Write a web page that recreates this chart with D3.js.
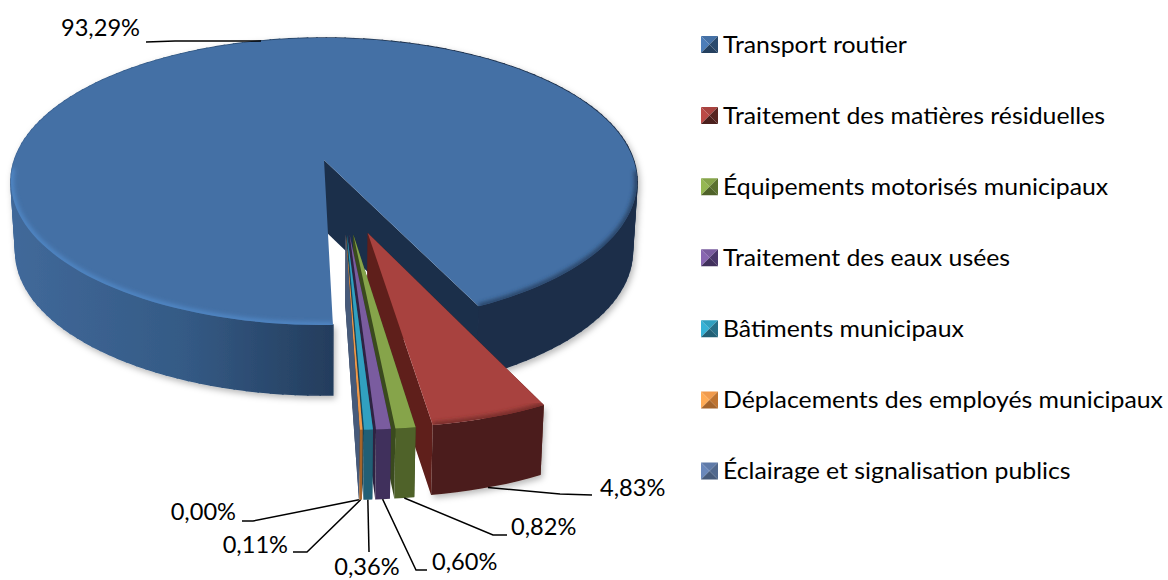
<!DOCTYPE html>
<html>
<head>
<meta charset="utf-8">
<script src="https://cdn.jsdelivr.net/npm/d3@7"></script>
<style>
  body { margin: 0; background: #fff; }
  text { font-family: Lato, "Open Sans", sans-serif; fill: #000; }
</style>
</head>
<body>
<div id="chart"></div>
<script>
// data
var categories = ["Transport routier", "Traitement des matières résiduelles", "Équipements motorisés municipaux",
  "Traitement des eaux usées", "Bâtiments municipaux", "Déplacements des employés municipaux", "Éclairage et signalisation publics"];
var values = [93.29, 4.83, 0.82, 0.60, 0.36, 0.11, 0.00];
var valueLabels = ["93,29%", "4,83%", "0,82%", "0,60%", "0,36%", "0,11%", "0,00%"];

// colours per slice
var topColors = ["#4470a5", "#a8423f", "#86a44a", "#7a5c9f", "#31a0c0", "#f09a4c", "#5f7aa8"];
var wallColors = ["#24405f", "#4b1f1c", "#4f6229", "#40305c", "#215f75", "#a5642a", "#465a7a"];
var sideColors = ["#1b2f4a", "#5f1f1b", "#3a4a1e", "#2e2342", "#17465a", "#7a4a20", "#465a7a"];

// leader elbow and label placement: [elbow x, elbow y, end x, end y, text x, text y, anchor]
var labelLayout = [
  [175, 41, 146, 42, 140, 36, "end"],
  [560, 494, 592, 495, 600, 496, "start"],
  [493, 535, 507, 535, 511, 535, "start"],
  [416, 570, 427, 570, 432, 570, "start"],
  [369, 552, 369, 552, 367, 575, "middle"],
  [307, 552, 293, 552, 288, 553, "end"],
  [253, 521, 242, 521, 236, 520, "end"]
];

var svgWidth = 1168;
var svgHeight = 580;

// perspective of the pie plane
var originX = 324, originY = 160;
var radiusX = 309.5, radiusY = 140.3;
var persp = 0.15;
var depth = 70;
var bottomShrink = 0.985;
var explode = 0.25;

var svg = d3.select("#chart").append("svg")
  .attr("width", svgWidth)
  .attr("height", svgHeight)
  .style("display", "block");

var defs = svg.append("defs");

var wallGrad = defs.append("linearGradient").attr("id", "mainWall")
  .attr("gradientUnits", "userSpaceOnUse").attr("x1", 10).attr("x2", 640).attr("y1", 0).attr("y2", 0);
wallGrad.append("stop").attr("offset", "0").attr("stop-color", "#41699a");
wallGrad.append("stop").attr("offset", "0.28").attr("stop-color", "#345a85");
wallGrad.append("stop").attr("offset", "0.51").attr("stop-color", "#243d5d");
wallGrad.append("stop").attr("offset", "0.62").attr("stop-color", "#1b2f4a");
wallGrad.append("stop").attr("offset", "1").attr("stop-color", "#1b2f4a");

var blur = defs.append("filter").attr("id", "soft");
blur.append("feGaussianBlur").attr("stdDeviation", 2);

var shadow = defs.append("filter").attr("id", "shadow")
  .attr("x", "-10%").attr("y", "-10%").attr("width", "120%").attr("height", "125%");
shadow.append("feDropShadow").attr("dx", 2).attr("dy", 3).attr("stdDeviation", 3)
  .attr("flood-color", "#000").attr("flood-opacity", 0.28);

function rad(deg) { return deg * Math.PI / 180; }
function dir(a) { return [Math.sin(a), -Math.cos(a)]; }

// plane point -> screen
function project(p, isBottom) {
  var w = 1 / (1 - persp * p[1]);
  if (isBottom) {
    return [originX + radiusX * p[0] * w * bottomShrink, originY + radiusY * p[1] * w + depth];
  }
  return [originX + radiusX * p[0] * w, originY + radiusY * p[1] * w];
}

var pie = d3.pie().sort(null).value(d => d)
  .startAngle(rad(178.6)).endAngle(rad(178.6 + 360));
var slices = pie(values);

// every slice is pulled out of the centre; the big one sets the projection origin
var mainDir = dir((slices[0].startAngle + slices[0].endAngle) / 2);
var centre = [-explode * mainDir[0], -explode * mainDir[1]];
slices.forEach(function(s) {
  s.mid = (s.startAngle + s.endAngle) / 2;
  var d = dir(s.mid);
  s.apex = [centre[0] + explode * d[0], centre[1] + explode * d[1]];
});

function edgePoint(s, a) {
  var d = dir(a);
  return [s.apex[0] + d[0], s.apex[1] + d[1]];
}

function arcPoints(s) {
  var n = Math.max(2, Math.ceil((s.endAngle - s.startAngle) / rad(2)));
  return d3.range(n + 1).map(i => edgePoint(s, s.startAngle + (s.endAngle - s.startAngle) * i / n));
}

var line = d3.line();
function closed(pts) { return line(pts) + "Z"; }

function topPath(s) {
  return closed([project(s.apex)].concat(arcPoints(s).map(p => project(p))));
}
function outerWall(s) {
  var arc = arcPoints(s);
  return closed(arc.map(p => project(p)).concat(arc.slice().reverse().map(p => project(p, true))));
}
// wall as one quad per arc step, so the sides between top and bottom ellipse get filled too
function wallQuads(s) {
  return d3.pairs(arcPoints(s)).map(q => closed([project(q[0]), project(q[1]), project(q[1], true), project(q[0], true)]));
}
function radialWall(s, a) {
  var e = edgePoint(s, a);
  return closed([project(s.apex), project(e), project(e, true), project(s.apex, true)]);
}

var pieGroup = svg.append("g");

// big slice: outer wall, inner wall, top
var main = slices[0];
pieGroup.append("g").attr("filter", "url(#shadow)")
  .selectAll("path").data(wallQuads(main)).join("path")
  .attr("d", d => d)
  .attr("fill", "url(#mainWall)")
  .attr("stroke", "url(#mainWall)")
  .attr("stroke-width", 1.6);
pieGroup.append("path").attr("d", radialWall(main, main.endAngle)).attr("fill", sideColors[0]);
pieGroup.append("path").attr("d", topPath(main)).attr("fill", topColors[0]);

// bevel on the front rim only: light on the left part, dark on the right part
defs.append("clipPath").attr("id", "mainClip").append("path").attr("d", topPath(main));
var rimGroup = pieGroup.append("g").attr("clip-path", "url(#mainClip)");
var rimPts = arcPoints(main).filter(p => p[1] > 0.05);
rimGroup.append("path")
  .attr("d", line(rimPts.filter(p => p[0] < 0.2).map(p => project(p))))
  .attr("fill", "none").attr("stroke", "#5086c4").attr("stroke-width", 6).attr("filter", "url(#soft)");
rimGroup.append("path")
  .attr("d", line(rimPts.filter(p => p[0] >= 0.2).map(p => project(p))))
  .attr("fill", "none").attr("stroke", "#263f60").attr("stroke-width", 5).attr("filter", "url(#soft)");

// pulled out slices, from right to left
slices.slice(1).forEach(function(s, i) {
  var k = i + 1;
  var g = pieGroup.append("g");
  g.append("path").attr("d", radialWall(s, s.startAngle)).attr("fill", sideColors[k]);
  g.append("path").attr("d", outerWall(s)).attr("fill", wallColors[k])
    .attr("filter", k === 1 ? "url(#shadow)" : null);
  g.append("path").attr("d", radialWall(s, s.endAngle)).attr("fill", sideColors[k]);
  g.append("path").attr("d", topPath(s)).attr("fill", topColors[k]);
  if (k === 1) {
    defs.append("clipPath").attr("id", "redClip").append("path").attr("d", topPath(s));
    g.append("g").attr("clip-path", "url(#redClip)").append("path")
      .attr("d", line(arcPoints(s).map(p => project(p))))
      .attr("fill", "none").attr("stroke", "#6e2a28").attr("stroke-width", 5).attr("filter", "url(#soft)");
  }
});

// the reference is wider than tall, text is stretched the same way
function stretchedText(sel, x, y, sx) {
  return sel.append("text")
    .attr("transform", `translate(${x}, ${y}) scale(${sx}, 1)`);
}

// data labels with leader lines
slices.forEach(function(s, i) {
  var out = edgePoint(s, s.mid);
  var a = project(out, i > 0);
  var lay = labelLayout[i];
  svg.append("path")
    .attr("d", line([a, [lay[0], lay[1]], [lay[2], lay[3]]]))
    .attr("fill", "none")
    .attr("stroke", "#000")
    .attr("stroke-width", 1.5);
  stretchedText(svg, lay[4], lay[5], 1.05)
    .attr("text-anchor", lay[6])
    .attr("font-size", 22.5)
    .text(valueLabels[i]);
});

// legend
var legendY = d3.scalePoint().domain(categories).range([44.5, 471]);
var legend = svg.append("g").selectAll("g").data(categories).join("g")
  .attr("transform", d => `translate(701, ${legendY(d)})`);

legend.each(function(d, i) {
  var g = d3.select(this);
  var h = 8.5;
  var base = d3.color(topColors[i]);
  var low = d3.color(wallColors[i]);
  g.append("path").attr("d", closed([[0, -h], [h * 2, -h], [h, 0]])).attr("fill", base.formatHex());
  g.append("path").attr("d", closed([[0, -h], [h, 0], [0, h]])).attr("fill", base.brighter(0.3).formatHex());
  g.append("path").attr("d", closed([[h * 2, -h], [h * 2, h], [h, 0]])).attr("fill", low.brighter(0.4).formatHex());
  g.append("path").attr("d", closed([[0, h], [h * 2, h], [h, 0]])).attr("fill", low.formatHex());
  stretchedText(g, 22, 8, 1.08).attr("font-size", 23).text(d);
});
</script>
</body>
</html>
